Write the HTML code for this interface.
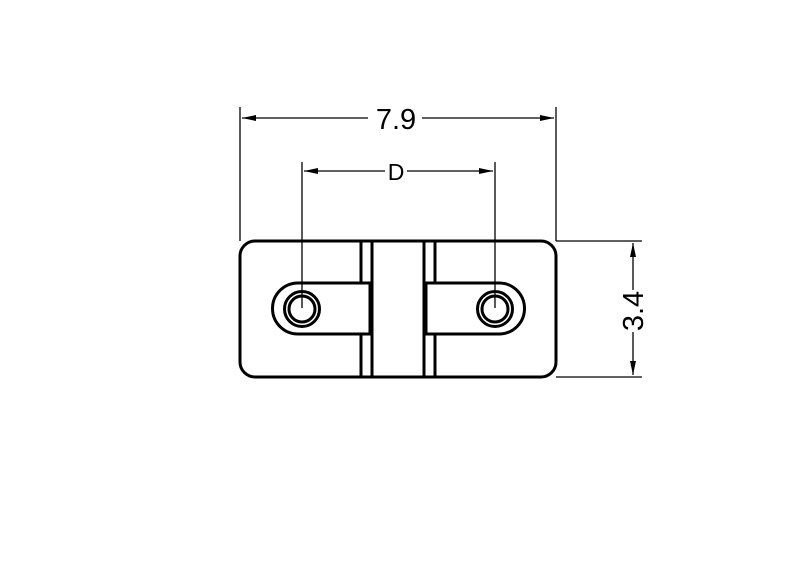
<!DOCTYPE html>
<html><head><style>body{margin:0;background:#fff}svg{display:block}</style></head><body>
<svg width="800" height="576" viewBox="0 0 800 576" xmlns="http://www.w3.org/2000/svg" font-family="Liberation Sans, sans-serif">
<defs>
<marker id="a" viewBox="0 0 14 6" refX="14" refY="3" markerWidth="14" markerHeight="6" markerUnits="userSpaceOnUse" orient="auto-start-reverse"><path d="M0,0L14,3L0,6z" fill="#000"/></marker>
</defs>
<g stroke="#000" fill="none">
<!-- dims thin -->
<g stroke-width="1.3">
<line x1="240" y1="107" x2="240" y2="241"/>
<line x1="556" y1="107" x2="556" y2="241"/>
<line x1="242" y1="118" x2="368" y2="118" marker-start="url(#a)"/>
<line x1="422" y1="118" x2="554" y2="118" marker-end="url(#a)"/>
<line x1="302" y1="162" x2="302" y2="308"/>
<line x1="495" y1="162" x2="495" y2="308"/>
<line x1="304" y1="171" x2="385" y2="171" marker-start="url(#a)"/>
<line x1="407" y1="171" x2="493" y2="171" marker-end="url(#a)"/>
<line x1="556" y1="241" x2="642" y2="241"/>
<line x1="556" y1="377" x2="642" y2="377"/>
<line x1="633" y1="243" x2="633" y2="290" marker-start="url(#a)"/>
<line x1="633" y1="332" x2="633" y2="375" marker-end="url(#a)"/>
</g>
<g stroke-width="3">
<rect x="240" y="241" width="316" height="136" rx="15"/>
<line x1="361" y1="241" x2="361" y2="283"/><line x1="361" y1="334" x2="361" y2="377"/>
<line x1="372" y1="241" x2="372" y2="377"/>
<line x1="424" y1="241" x2="424" y2="377"/>
<line x1="435" y1="241" x2="435" y2="283"/><line x1="435" y1="334" x2="435" y2="377"/>
<path d="M370,283 H298 A25.5,25.5 0 0 0 298,334 H370 Z"/>
<path d="M426,283 H499 A25.5,25.5 0 0 1 499,334 H426 Z"/>
<circle cx="302" cy="309" r="17.5"/><circle cx="302" cy="309" r="13"/>
<circle cx="495" cy="309" r="17.5"/><circle cx="495" cy="309" r="13"/>
</g>
</g>
<text x="396" y="129" font-size="29" text-anchor="middle">7.9</text>
<text x="396" y="180" font-size="23" text-anchor="middle">D</text>
<text transform="translate(643,311) rotate(-90)" font-size="29" text-anchor="middle">3.4</text>
</svg>
</body></html>
